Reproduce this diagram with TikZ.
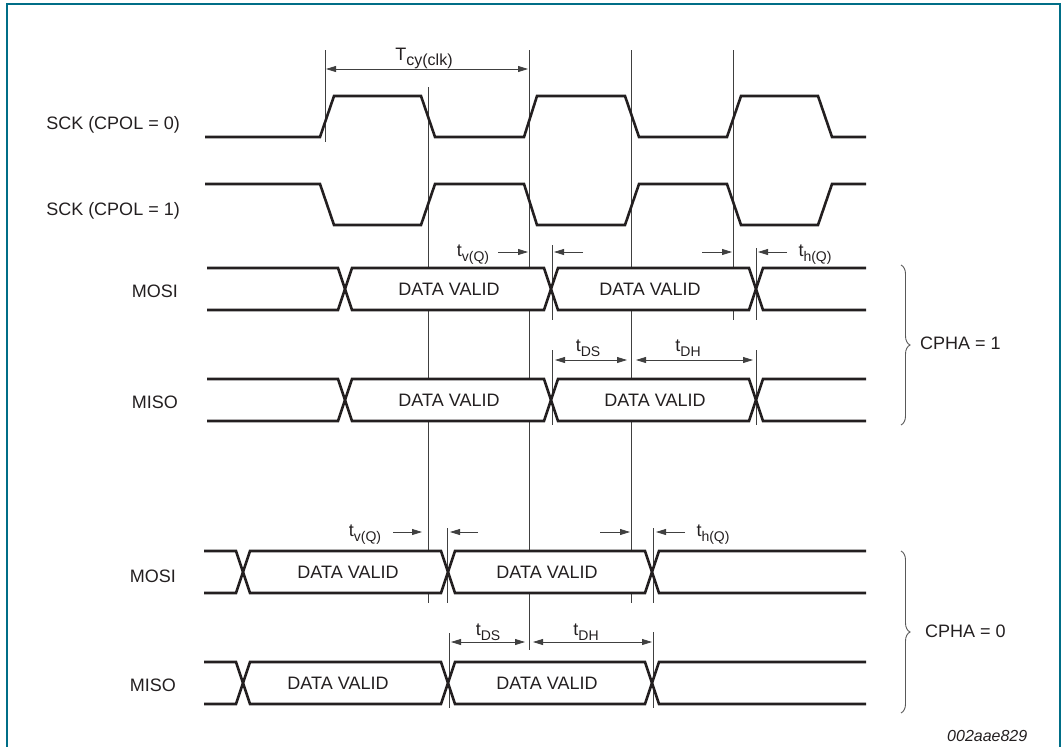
\documentclass[tikz,border=0pt]{standalone}
\usepackage{fontspec}
\setmainfont{Liberation Sans}
\usetikzlibrary{arrows.meta,decorations.pathreplacing}
\definecolor{frame}{RGB}{0,110,135}
\definecolor{ink}{RGB}{35,31,32}
\newcommand{\lsub}[1]{\raisebox{-5pt}{\fontsize{14}{16}\selectfont #1}}
\newcommand{\lsubT}[1]{\raisebox{-5pt}{\fontsize{16}{18}\selectfont #1}}
\newcommand{\busrow}[7]{% start, end, top, bottom, c1, c2, c3
  \fill[white] (#1,#3) -- ({#5-7},#3) -- (#5,{(#3+#4)/2}) -- ({#5+7},#3) -- ({#6-7},#3) -- (#6,{(#3+#4)/2}) -- ({#6+7},#3) -- ({#7-7},#3) -- (#7,{(#3+#4)/2}) -- ({#7+7},#3) -- (#2,#3)
     -- (#2,#4) -- ({#7+7},#4) -- (#7,{(#3+#4)/2}) -- ({#7-7},#4) -- ({#6+7},#4) -- (#6,{(#3+#4)/2}) -- ({#6-7},#4) -- ({#5+7},#4) -- (#5,{(#3+#4)/2}) -- ({#5-7},#4) -- (#1,#4) -- cycle;
  \draw[wave] (#1,#3) -- ({#5-7},#3) -- ({#5+7},#4) -- ({#6-7},#4) -- ({#6+7},#3) -- ({#7-7},#3) -- ({#7+7},#4) -- (#2,#4);
  \draw[wave] (#1,#4) -- ({#5-7},#4) -- ({#5+7},#3) -- ({#6-7},#3) -- ({#6+7},#4) -- ({#7-7},#4) -- ({#7+7},#3) -- (#2,#3);
}
\begin{document}
\begin{tikzpicture}[x=1pt,y=-1pt,
  wave/.style={line width=2.6pt, ink, line join=miter},
  guide/.style={line width=0.9pt, black!75},
  sarrow/.style={line width=0.8pt, black!75, -{Triangle[length=10pt,width=6pt]}},
  darrow/.style={line width=0.8pt, black!75, {Triangle[length=10pt,width=6pt]}-{Triangle[length=10pt,width=6pt]}},
  txt/.style={font=\fontsize{18}{21}\selectfont, text=ink, inner sep=0pt},
  bracestyle/.style={line width=0.9pt, black!65, decorate, decoration={brace, amplitude=9pt}}]
\useasboundingbox (0,0) rectangle (1063,747);
\draw[frame, line width=1.5pt] (7,747) -- (7,4) -- (1060,4) -- (1060,747);

% guide lines
\draw[guide] (325,50) -- (325,142);
\draw[guide] (428,87) -- (428,603);
\draw[guide] (529,50) -- (529,650);
\draw[guide] (631,50) -- (631,603);
\draw[guide] (733,50) -- (733,320);
\draw[guide] (552,245) -- (552,320);
\draw[guide] (756,248) -- (756,320);
\draw[guide] (552,350) -- (552,425);
\draw[guide] (756,350) -- (756,425);
\draw[guide] (447.5,528) -- (447.5,603);
\draw[guide] (653,528) -- (653,603);
\draw[guide] (449,633) -- (449,708);
\draw[guide] (653,632) -- (653,708);

% clocks
\draw[wave] (205,137) -- (320,137) -- (334,96) -- (421,96) -- (435,137) -- (524,137) -- (537,96) -- (625,96) -- (639,137) -- (727,137) -- (741,96) -- (818,96) -- (832,137) -- (866,137);
\draw[wave] (205,184) -- (320,184) -- (334,225) -- (421,225) -- (435,184) -- (524,184) -- (537,225) -- (625,225) -- (639,184) -- (727,184) -- (741,225) -- (818,225) -- (832,184) -- (866,184);

% data buses
\busrow{207}{866}{268}{310}{345}{551}{756}
\busrow{207}{866}{379}{421}{345}{551}{756}
\busrow{204}{866}{551}{593}{243}{448}{652}
\busrow{204}{866}{662}{704}{243}{448}{652}

% signal names
\node[txt, anchor=base east] (sck0) at (180,129) {SCK (CPOL = 0)};
\node[txt, anchor=base east] (sck1) at (180,215) {SCK (CPOL = 1)};
\node[txt, anchor=base east] (mosi1) at (178,297) {MOSI};
\node[txt, anchor=base east] (miso1) at (178,408) {MISO};
\node[txt, anchor=base east] (mosi0) at (176,582) {MOSI};
\node[txt, anchor=base east] (miso0) at (176,691) {MISO};

% data valid
\node[txt] (d1a) at (449,289) {DATA VALID};
\node[txt] (d1b) at (650,289) {DATA VALID};
\node[txt] (d2a) at (449,400) {DATA VALID};
\node[txt] (d2b) at (655,400) {DATA VALID};
\node[txt] (d3a) at (348,572) {DATA VALID};
\node[txt] (d3b) at (547,572) {DATA VALID};
\node[txt] (d4a) at (338,683) {DATA VALID};
\node[txt] (d4b) at (547,683) {DATA VALID};

% Tcy
\coordinate (tcyA) at (326,69);
\coordinate (tcyB) at (528,69);
\draw[darrow] (tcyA) -- (tcyB);
\node[txt, anchor=base] (tcy) at (424,60) {T\lsubT{cy(clk)}};

% CPHA=1 MOSI timing
\node[txt, anchor=base] (tv1) at (473,256) {t\lsub{v(Q)}};
\coordinate (a1s) at (498,252); \coordinate (a1e) at (528,252);
\coordinate (a2s) at (583,252); \coordinate (a2e) at (554,252);
\coordinate (a3s) at (702,252); \coordinate (a3e) at (732,252);
\coordinate (a4s) at (787,252); \coordinate (a4e) at (758,252);
\draw[sarrow] (a1s) -- (a1e);
\draw[sarrow] (a2s) -- (a2e);
\draw[sarrow] (a3s) -- (a3e);
\draw[sarrow] (a4s) -- (a4e);
\node[txt, anchor=base] (th1) at (815,256) {t\lsub{h(Q)}};

% CPHA=1 MISO timing
\coordinate (ds1a) at (555,360); \coordinate (ds1b) at (627,360);
\coordinate (dh1a) at (636,360); \coordinate (dh1b) at (753,360);
\draw[darrow] (ds1a) -- (ds1b);
\draw[darrow] (dh1a) -- (dh1b);
\node[txt, anchor=base] (tds1) at (588,351) {t\lsub{DS}};
\node[txt, anchor=base] (tdh1) at (688,351) {t\lsub{DH}};

% CPHA=0 MOSI timing
\node[txt, anchor=base] (tv0) at (365,536) {t\lsub{v(Q)}};
\coordinate (b1s) at (393,532); \coordinate (b1e) at (422,532);
\coordinate (b2s) at (478,532); \coordinate (b2e) at (450,532);
\coordinate (b3s) at (600,532); \coordinate (b3e) at (630,532);
\coordinate (b4s) at (685,532); \coordinate (b4e) at (656,532);
\draw[sarrow] (b1s) -- (b1e);
\draw[sarrow] (b2s) -- (b2e);
\draw[sarrow] (b3s) -- (b3e);
\draw[sarrow] (b4s) -- (b4e);
\node[txt, anchor=base] (th0) at (713,536) {t\lsub{h(Q)}};

% CPHA=0 MISO timing
\coordinate (ds0a) at (451,642); \coordinate (ds0b) at (525,642);
\coordinate (dh0a) at (533,642); \coordinate (dh0b) at (652,642);
\draw[darrow] (ds0a) -- (ds0b);
\draw[darrow] (dh0a) -- (dh0b);
\node[txt, anchor=base] (tds0) at (488,635) {t\lsub{DS}};
\node[txt, anchor=base] (tdh0) at (586,635) {t\lsub{DH}};

% braces
\coordinate (br1t) at (901,265); \coordinate (br1b) at (901,425);
\draw[bracestyle] (br1t) -- (br1b);
\node[txt, anchor=base west] (cpha1) at (920,349) {CPHA = 1};
\coordinate (br0t) at (901,551); \coordinate (br0b) at (901,713);
\draw[bracestyle] (br0t) -- (br0b);
\node[txt, anchor=base west] (cpha0) at (925,637) {CPHA = 0};

\node[font=\fontsize{16}{19}\selectfont\itshape, text=ink, inner sep=0pt, anchor=base west] (code) at (947,741) {002aae829};
\end{tikzpicture}
\end{document}
